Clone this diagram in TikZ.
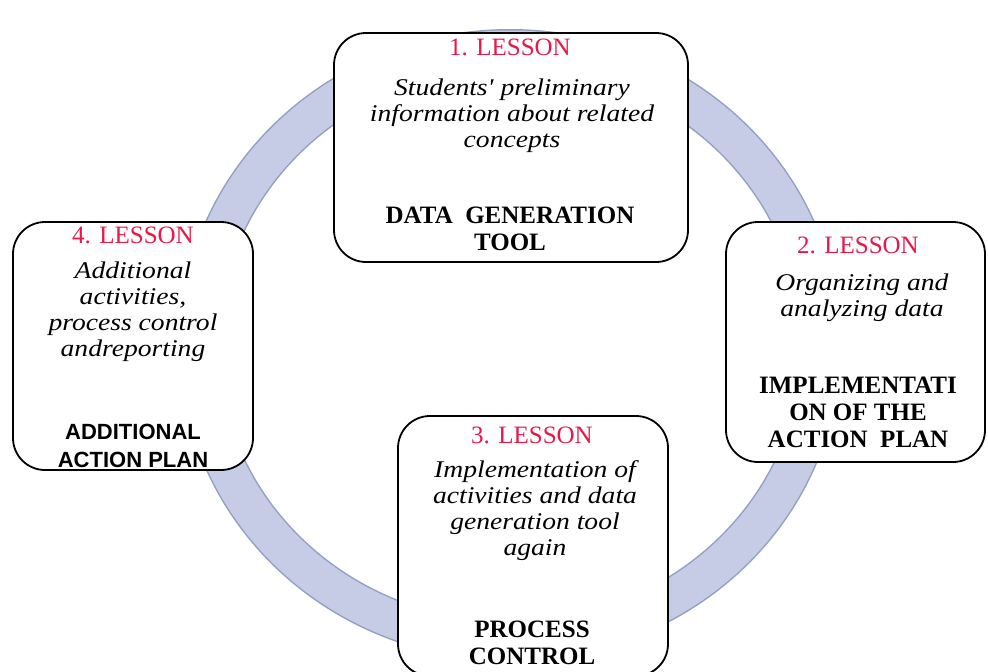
\documentclass[tikz,border=0pt]{standalone}
\usepackage{fontspec}
\setmainfont{Liberation Serif}
\setsansfont{Liberation Sans}
\newfontfamily\descfont{Liberation Serif}[FakeStretch=1.15]
\usetikzlibrary{positioning}
\definecolor{ringfill}{RGB}{198,204,230}
\definecolor{ringedge}{RGB}{150,158,196}
\definecolor{lessonred}{RGB}{232,24,72}
\tikzset{
	lessonbox/.style={draw=black, line width=1.8pt, rounded corners=32pt, fill=white, inner sep=0pt},
	lessontitle/.style={text=lessonred, inner sep=0pt, font=\fontsize{25}{27}\selectfont},
	lessondesc/.style={align=center, inner sep=0pt, font=\descfont\itshape\fontsize{24}{26}\selectfont},
	lessonlabel/.style={align=center, inner sep=0pt, font=\bfseries\fontsize{25}{27}\selectfont},
}
\begin{document}
\begin{tikzpicture}[x=1pt,y=-1pt]
		\useasboundingbox (0,0) rectangle (988,672);
		% ring behind the four lessons
		\draw [ringedge, line width=40pt] (510,345) ellipse [x radius=311, y radius=296];
		\draw [ringfill, line width=37pt] (510,345) ellipse [x radius=311, y radius=296];

		\node (lesson1) [lessonbox, minimum width=354pt, minimum height=229pt] at (511,147.5) {};
		\node (lesson2) [lessonbox, minimum width=259pt, minimum height=240pt] at (855.5,342) {};
		\node (lesson3) [lessonbox, minimum width=270pt, minimum height=260pt] at (533,546) {};
		\node (lesson4) [lessonbox, minimum width=240pt, minimum height=248pt] at (133,346) {};

		\node (title1) [lessontitle] at (510,47) {1. LESSON};
		\node (desc1) [lessondesc] at (512,116) {Students' preliminary\\information about related\\concepts};
		\node (label1) [lessonlabel] at (510,229) {DATA~~GENERATION\\TOOL};

		\node (title2) [lessontitle] at (858,245) {2. LESSON};
		\node (desc2) [lessondesc] at (862,298) {Organizing and\\analyzing data};
		\node (label2) [lessonlabel] at (858,412) {IMPLEMENTATI\\ON OF THE\\ACTION~~PLAN};

		\node (title3) [lessontitle] at (532,435) {3. LESSON};
		\node (desc3) [lessondesc] at (535,511) {Implementation of\\activities and data\\generation tool\\again};
		\node (label3) [lessonlabel] at (532,643) {PROCESS\\CONTROL};

		\node (title4) [lessontitle] at (133,235) {4. LESSON};
		\node (desc4) [lessondesc] at (133,312) {Additional\\activities,\\process control\\andreporting};
		\node (label4) [lessonlabel, font=\sffamily\bfseries\fontsize{22}{28}\selectfont] at (133,446) {ADDITIONAL\\ACTION PLAN};
	\end{tikzpicture}
\end{document}
